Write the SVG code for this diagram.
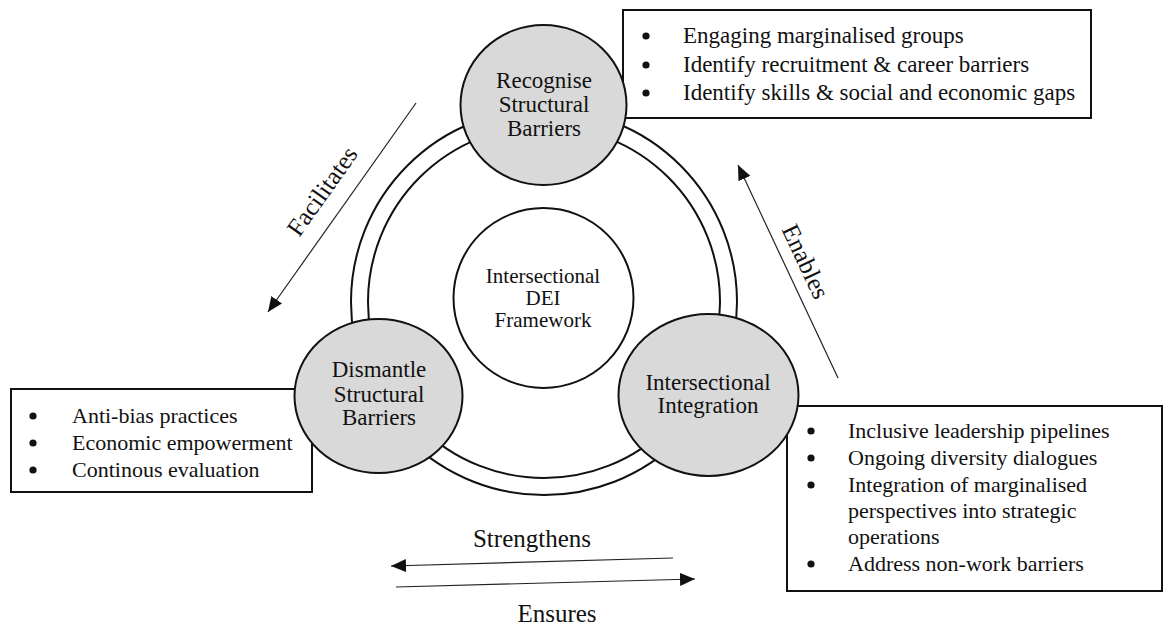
<svg xmlns="http://www.w3.org/2000/svg" width="1165" height="628" viewBox="0 0 1165 628">
  <defs>
    <marker id="arrowhead" markerUnits="userSpaceOnUse" markerWidth="15" markerHeight="13" refX="15" refY="6.5" orient="auto">
      <path d="M0,0 L15,6.5 L0,13 z" fill="#111"/>
    </marker>
    <style>
      text { font-family: "Liberation Serif", "Times New Roman", serif; fill: #111; }
      .node { fill: #d9d9d9; stroke: #111; stroke-width: 2; }
      .hub { fill: #fff; stroke: #111; stroke-width: 2; }
      .ring { fill: none; stroke: #111; stroke-width: 2; }
      .box { fill: #fff; stroke: #111; stroke-width: 2; }
      .label { font-size: 23px; text-anchor: middle; }
      .hub-label { font-size: 21px; text-anchor: middle; }
      .item { font-size: 22px; }
      .item-lg { font-size: 23px; }
      .flow { fill: none; stroke: #222; stroke-width: 1.2; marker-end: url(#arrowhead); }
      .flow-label { font-size: 25px; text-anchor: middle; }
    </style>
  </defs>
  <rect width="1165" height="628" fill="#fff"/>

  <!-- double ring linking the three stages -->
  <g id="ring">
    <circle class="ring" cx="544" cy="302" r="193"/>
    <circle class="ring" cx="544" cy="302" r="176"/>
  </g>

  <!-- bullet boxes (drawn under the stage circles) -->
  <g id="box-recognise">
    <rect class="box" x="623" y="10" width="468" height="108"/>
    <circle cx="646" cy="36" r="3.6" fill="#111"/>
    <circle cx="646" cy="65" r="3.6" fill="#111"/>
    <circle cx="646" cy="93" r="3.6" fill="#111"/>
    <text class="item-lg" x="683" y="43">Engaging marginalised groups</text>
    <text class="item-lg" x="683" y="72">Identify recruitment &amp; career barriers</text>
    <text class="item-lg" x="683" y="100">Identify skills &amp; social and economic gaps</text>
  </g>

  <g id="box-dismantle">
    <rect class="box" x="11" y="389" width="301" height="103"/>
    <circle cx="33" cy="416" r="3.6" fill="#111"/>
    <circle cx="33" cy="443" r="3.6" fill="#111"/>
    <circle cx="33" cy="470" r="3.6" fill="#111"/>
    <text class="item" x="72" y="423">Anti-bias practices</text>
    <text class="item" x="72" y="450">Economic empowerment</text>
    <text class="item" x="72" y="477">Continous evaluation</text>
  </g>

  <g id="box-integration">
    <rect class="box" x="787" y="406" width="375" height="185"/>
    <circle cx="811" cy="431" r="3.6" fill="#111"/>
    <circle cx="811" cy="458" r="3.6" fill="#111"/>
    <circle cx="811" cy="485" r="3.6" fill="#111"/>
    <circle cx="811" cy="564" r="3.6" fill="#111"/>
    <text class="item" x="848" y="438">Inclusive leadership pipelines</text>
    <text class="item" x="848" y="465">Ongoing diversity dialogues</text>
    <text class="item" x="848" y="492">Integration of marginalised</text>
    <text class="item" x="848" y="518">perspectives into strategic</text>
    <text class="item" x="848" y="544">operations</text>
    <text class="item" x="848" y="571">Address non-work barriers</text>
  </g>

  <!-- centre of the framework -->
  <g id="hub">
    <circle class="hub" cx="543.5" cy="298" r="90"/>
    <text class="hub-label" x="543" y="283">Intersectional</text>
    <text class="hub-label" x="543" y="305">DEI</text>
    <text class="hub-label" x="543" y="327">Framework</text>
  </g>

  <!-- stage circles -->
  <g id="recognise">
    <ellipse class="node" cx="543.5" cy="105" rx="83" ry="80"/>
    <text class="label" x="544" y="88">Recognise</text>
    <text class="label" x="544" y="112">Structural</text>
    <text class="label" x="544" y="136">Barriers</text>
  </g>

  <g id="dismantle">
    <ellipse class="node" cx="378.5" cy="396" rx="84" ry="77"/>
    <text class="label" x="379" y="377">Dismantle</text>
    <text class="label" x="379" y="402">Structural</text>
    <text class="label" x="379" y="425">Barriers</text>
  </g>

  <g id="integration">
    <ellipse class="node" cx="708.5" cy="395" rx="90" ry="81"/>
    <text class="label" x="708" y="390">Intersectional</text>
    <text class="label" x="708" y="413">Integration</text>
  </g>

  <!-- relationships between the stages -->
  <g id="connectors">
    <line class="flow" x1="416" y1="103" x2="268" y2="312"/>
    <text class="flow-label" transform="translate(329,196) rotate(-54.7)">Facilitates</text>

    <line class="flow" x1="838" y1="378" x2="738" y2="165"/>
    <text class="flow-label" transform="translate(798,265) rotate(64.8)">Enables</text>

    <line class="flow" x1="673" y1="558" x2="391" y2="566"/>
    <text class="flow-label" x="532" y="547">Strengthens</text>

    <line class="flow" x1="396" y1="587" x2="695" y2="579"/>
    <text class="flow-label" x="557" y="622">Ensures</text>
  </g>
</svg>
